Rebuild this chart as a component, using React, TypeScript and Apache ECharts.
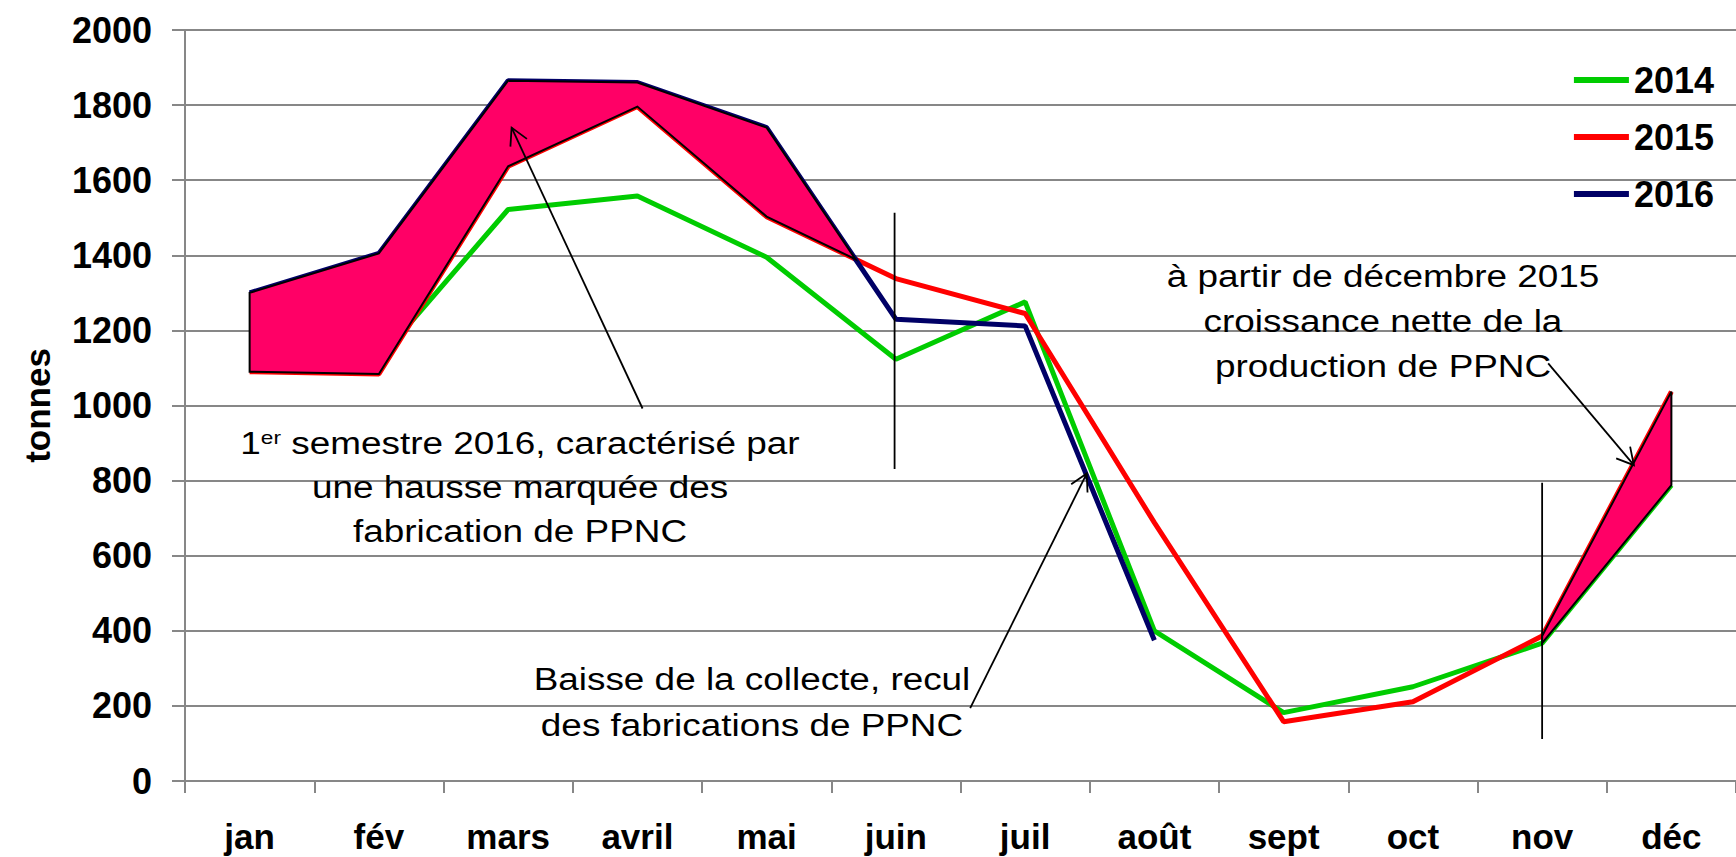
import React, { useEffect, useRef } from 'react';
import * as echarts from 'echarts';

const months = ['jan', 'fév', 'mars', 'avril', 'mai', 'juin', 'juil', 'août', 'sept', 'oct', 'nov', 'déc'];
const y2014 = [1160, 1123, 1522, 1558, 1395, 1123, 1276, 400, 182, 251, 367, 788];
const y2015 = [1090, 1084, 1637, 1796, 1503, 1338, 1245, 688, 158, 211, 386, 1037];
const y2016 = [1300, 1405, 1865, 1860, 1740, 1230, 1212, 375, null, null, null, null];
const yMin = 0;
const yMax = 2000;
const yStep = 200;

// annotation arrows on a continuous 0..12 month scale: [x1, y1, x2, y2, head]
const arrows = [
  [3.54, 992, 2.527, 1740, 1],
  [6.075, 194, 6.977, 819, 1],
  [10.547, 1112, 11.21, 841, 1],
  [5.49, 1513, 5.49, 831, 0],
  [10.5, 794, 10.5, 112, 0],
];

const note1 = ['1{sup|er} semestre 2016, caractérisé par', 'une hausse marquée des', 'fabrication de PPNC'];
const note2 = ['Baisse de la collecte, recul', 'des fabrications de PPNC'];
const note3 = ['à partir de décembre 2015', 'croissance nette de la', 'production de PPNC'];

const FONT = '"Liberation Sans", Arial, Helvetica, sans-serif';
const GRAY = '#878787';

function noteGraphics(lines: string[], cx: number, cy0: number, gap: number) {
  return lines.map((t, i) => ({
    type: 'text',
    x: cx,
    y: cy0 + i * gap,
    scaleX: 1.19,
    z: 20,
    style: {
      text: t,
      x: 0,
      y: 0,
      fill: '#000',
      font: `31px ${FONT}`,
      fontFamily: FONT,
      fontSize: 31,
      align: 'center',
      verticalAlign: 'middle',
      textAlign: 'center',
      textVerticalAlign: 'middle',
      rich: {
        sup: { fontSize: 19, fontFamily: FONT, fill: '#000', padding: [0, 0, 12, 0] },
      },
    },
  }));
}

export default function App() {
  const ref = useRef<HTMLDivElement>(null);
  useEffect(() => {
    document.body.style.margin = '0';
    const chart = echarts.init(ref.current!, null, { renderer: 'svg' });

    const poly1 = (params: any, api: any) => {
      const top: number[][] = [];
      const bot: number[][] = [];
      for (let i = 0; i <= 4; i++) {
        top.push(api.coord([i, y2016[i]]));
        bot.push(api.coord([i, y2015[i]]));
      }
      const b0 = api.coord([4, y2016[4]]);
      const b1 = api.coord([5, y2016[5]]);
      const r0 = api.coord([4, y2015[4]]);
      const r1 = api.coord([5, y2015[5]]);
      const t = (r0[1] - b0[1]) / ((b1[1] - b0[1]) - (r1[1] - r0[1]));
      const ip = [b0[0] + t * (b1[0] - b0[0]), b0[1] + t * (b1[1] - b0[1])];
      const pts = [...top, ip, ...bot.reverse()];
      return {
        type: 'polygon',
        shape: { points: pts },
        style: { fill: '#FF0066', stroke: '#000', lineWidth: 2 },
      };
    };
    const poly2 = (params: any, api: any) => {
      const pts = [
        api.coord([10, y2015[10]]),
        api.coord([11, y2015[11]]),
        api.coord([11, y2014[11]]),
        api.coord([10, y2014[10]]),
      ];
      return {
        type: 'polygon',
        shape: { points: pts },
        style: { fill: '#FF0066', stroke: '#000', lineWidth: 2 },
      };
    };
    const arrowItem = (params: any, api: any) => {
      const a = api.coord([api.value(0), api.value(1)]);
      const b = api.coord([api.value(2), api.value(3)]);
      const head = api.value(4);
      const children: any[] = [
        { type: 'line', shape: { x1: a[0], y1: a[1], x2: b[0], y2: b[1] }, style: { stroke: '#000', lineWidth: 1.8 } },
      ];
      if (head) {
        const ang = Math.atan2(b[1] - a[1], b[0] - a[0]);
        const L = 19;
        const w = 0.5;
        children.push({
          type: 'polyline',
          shape: {
            points: [
              [b[0] - L * Math.cos(ang - w), b[1] - L * Math.sin(ang - w)],
              [b[0], b[1]],
              [b[0] - L * Math.cos(ang + w), b[1] - L * Math.sin(ang + w)],
            ],
          },
          style: { stroke: '#000', lineWidth: 1.8, fill: 'none' },
        });
      }
      return { type: 'group', children };
    };

    chart.setOption({
      animation: false,
      textStyle: { fontFamily: FONT },
      grid: { left: 185, right: -14, top: 30, bottom: 76, containLabel: false },
      legend: {
        orient: 'vertical',
        right: 17,
        top: 57,
        icon: 'rect',
        itemWidth: 55,
        itemHeight: 6,
        itemGap: 21,
        textStyle: { fontSize: 36, fontWeight: 'bold', color: '#000', fontFamily: FONT, lineHeight: 36 },
        data: ['2014', '2015', '2016'],
      },
      xAxis: [
        {
          type: 'category',
          data: months,
          boundaryGap: true,
          axisLine: { show: true, lineStyle: { color: GRAY, width: 2 } },
          axisTick: { show: true, length: 12, lineStyle: { color: GRAY, width: 2 } },
          axisLabel: { fontSize: 35, fontWeight: 'bold', color: '#000', margin: 38, fontFamily: FONT },
          splitLine: { show: false },
        },
        { type: 'value', min: 0, max: 12, show: false },
      ],
      yAxis: {
        type: 'value',
        min: yMin,
        max: yMax,
        interval: yStep,
        name: 'tonnes',
        nameLocation: 'middle',
        nameGap: 130,
        nameTextStyle: { fontSize: 35, fontWeight: 'bold', color: '#000', fontFamily: FONT },
        axisLine: { show: true, lineStyle: { color: GRAY, width: 2 } },
        axisTick: { show: true, length: 13, lineStyle: { color: GRAY, width: 2 } },
        axisLabel: {
          fontSize: 36,
          fontWeight: 'bold',
          color: '#000',
          margin: 33,
          fontFamily: FONT,
          formatter: (v: number) => String(v),
        },
        splitLine: { show: true, lineStyle: { color: GRAY, width: 2 } },
      },
      series: [
        { name: '2014', type: 'line', data: y2014, symbol: 'none', z: 2, lineStyle: { color: '#00CC00', width: 5 }, itemStyle: { color: '#00CC00' } },
        { name: '2015', type: 'line', data: y2015, symbol: 'none', z: 2, lineStyle: { color: '#FF0000', width: 5 }, itemStyle: { color: '#FF0000' } },
        { name: '2016', type: 'line', data: y2016, symbol: 'none', z: 2, lineStyle: { color: '#000066', width: 5 }, itemStyle: { color: '#000066' } },
        { type: 'custom', renderItem: poly1, data: [[0, 0]], z: 3, silent: true },
        { type: 'custom', renderItem: poly2, data: [[0, 0]], z: 3, silent: true },
        {
          type: 'custom',
          xAxisIndex: 1,
          renderItem: arrowItem,
          data: arrows,
          encode: { x: [0, 2], y: [1, 3] },
          z: 4,
          silent: true,
        },
      ],
      graphic: [
        ...noteGraphics(note1, 520, 443, 44),
        ...noteGraphics(note2, 752, 679, 46),
        ...noteGraphics(note3, 1383, 276, 45),
      ],
    });
    return () => chart.dispose();
  }, []);
  return <div ref={ref} style={{ width: 1736, height: 857 }} />;
}
